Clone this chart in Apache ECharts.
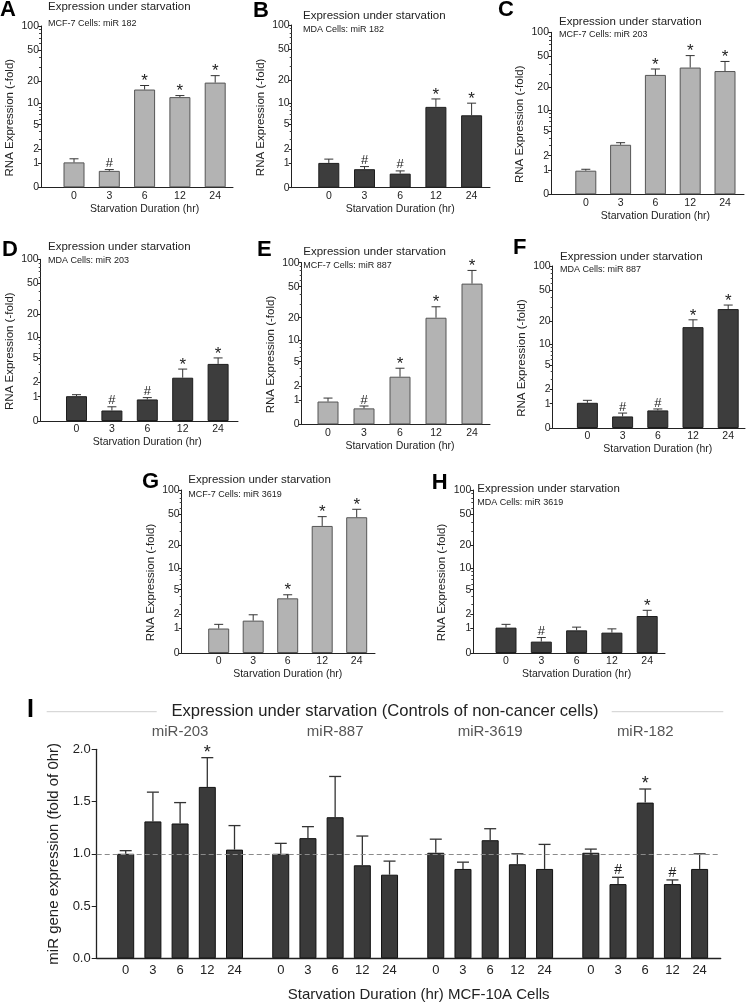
<!DOCTYPE html>
<html>
<head>
<meta charset="utf-8">
<script src="https://cdn.jsdelivr.net/npm/echarts@6/dist/echarts.min.js"></script>
<style>
html, body { margin: 0; padding: 0; background: #fff; }
#container { width: 747px; height: 1004px; }
</style>
</head>
<body>
<div id="container"></div>
<script>
// ---- data ----
var hours = ['0', '3', '6', '12', '24'];
var yTicks = [0, 1, 2, 5, 10, 20, 50, 100];
var yMinorTicks = [3, 4, 6, 7, 8, 9, 30, 40, 60, 70, 80, 90];

// A: MCF-7 miR 182
var mcf7_182 = [1.04, 0.6, 15.4, 12.2, 19];
var mcf7_182_err = [0.22, 0.06, 2.0, 0.6, 4.4];
var mcf7_182_sig = ['', '#', '*', '*', '*'];
// B: MDA miR 182
var mda_182 = [1.02, 0.69, 0.49, 8.9, 6.8];
var mda_182_err = [0.23, 0.13, 0.12, 2.5, 3.2];
var mda_182_sig = ['', '#', '#', '*', '*'];
// C: MCF-7 miR 203
var mcf7_203 = [0.96, 3.1, 29, 36, 32.5];
var mcf7_203_err = [0.08, 0.25, 5.5, 15, 10.5];
var mcf7_203_sig = ['', '', '*', '*', '*'];
// D: MDA miR 203
var mda_203 = [1.03, 0.35, 0.85, 2.44, 4.1];
var mda_203_err = [0.09, 0.15, 0.1, 0.96, 0.95];
var mda_203_sig = ['', '#', '#', '*', '*'];
// E: MCF-7 miR 887
var mcf7_887 = [0.92, 0.58, 2.9, 20, 54.6];
var mcf7_887_err = [0.2, 0.11, 1.07, 7.7, 25.4];
var mcf7_887_sig = ['', '#', '*', '*', '*'];
// F: MDA miR 887
var mda_887 = [1.05, 0.39, 0.65, 16.7, 28.6];
var mda_887_err = [0.15, 0.14, 0.07, 4.1, 3.6];
var mda_887_sig = ['', '#', '#', '*', '*'];
// G: MCF-7 miR 3619
var mcf7_3619 = [1.0, 1.5, 3.7, 35.5, 45.7];
var mcf7_3619_err = [0.25, 0.45, 0.5, 11, 11.8];
var mcf7_3619_sig = ['', '', '*', '*', '*'];
// H: MDA miR 3619
var mda_3619 = [1.05, 0.38, 0.9, 0.78, 1.85];
var mda_3619_err = [0.2, 0.17, 0.18, 0.2, 0.5];
var mda_3619_sig = ['', '#', '', '', '*'];

// I: MCF-10A controls
var groups = ['miR-203', 'miR-887', 'miR-3619', 'miR-182'];
var ctrl_203 = [1.0, 1.31, 1.29, 1.64, 1.04];
var ctrl_203_err = [0.03, 0.28, 0.2, 0.28, 0.23];
var ctrl_203_sig = ['', '', '', '*', ''];
var ctrl_887 = [1.0, 1.15, 1.35, 0.89, 0.80];
var ctrl_887_err = [0.1, 0.11, 0.39, 0.28, 0.13];
var ctrl_887_sig = ['', '', '', '', ''];
var ctrl_3619 = [1.01, 0.855, 1.13, 0.9, 0.855];
var ctrl_3619_err = [0.13, 0.065, 0.11, 0.1, 0.235];
var ctrl_3619_sig = ['', '', '', '', ''];
var ctrl_182 = [1.01, 0.71, 1.49, 0.71, 0.855];
var ctrl_182_err = [0.035, 0.065, 0.13, 0.04, 0.145];
var ctrl_182_sig = ['', '#', '*', '#', ''];

// ---- layout ----
var FONT = '"Liberation Sans", Arial, sans-serif';
var TXT = '#222';

var panels = [
    {letter: 'A', cells: 'MCF-7 Cells: miR 182', mean: mcf7_182, err: mcf7_182_err, sig: mcf7_182_sig, light: true,
     lx: 0, ly: 10, tx: 48, ty: 6.7, sy: 23.3, ax: 41, top: 26, bottom: 187.3, c0: 74, step: 35.3, right: 233},
    {letter: 'B', cells: 'MDA Cells: miR 182', mean: mda_182, err: mda_182_err, sig: mda_182_sig, light: false,
     lx: 253, ly: 10.5, tx: 303, ty: 15.7, sy: 29.3, ax: 291.7, top: 25, bottom: 187.7, c0: 328.8, step: 35.7, right: 490},
    {letter: 'C', cells: 'MCF-7 Cells: miR 203', mean: mcf7_203, err: mcf7_203_err, sig: mcf7_203_sig, light: true,
     lx: 498, ly: 10, tx: 559, ty: 21.7, sy: 35, ax: 551, top: 32.3, bottom: 194.3, c0: 585.8, step: 34.8, right: 744},
    {letter: 'D', cells: 'MDA Cells: miR 203', mean: mda_203, err: mda_203_err, sig: mda_203_sig, light: false,
     lx: 2, ly: 250, tx: 48, ty: 247.3, sy: 261, ax: 40.7, top: 259.3, bottom: 421, c0: 76.5, step: 35.4, right: 238},
    {letter: 'E', cells: 'MCF-7 Cells: miR 887', mean: mcf7_887, err: mcf7_887_err, sig: mcf7_887_sig, light: true,
     lx: 257, ly: 250, tx: 303.3, ty: 251.7, sy: 265.7, ax: 301.7, top: 262.7, bottom: 424.4, c0: 328, step: 36, right: 490},
    {letter: 'F', cells: 'MDA Cells: miR 887', mean: mda_887, err: mda_887_err, sig: mda_887_sig, light: false,
     lx: 513, ly: 248, tx: 560, ty: 256.7, sy: 270, ax: 552.7, top: 266, bottom: 428, c0: 587.4, step: 35.2, right: 745},
    {letter: 'G', cells: 'MCF-7 Cells: miR 3619', mean: mcf7_3619, err: mcf7_3619_err, sig: mcf7_3619_sig, light: true,
     lx: 142, ly: 482, tx: 188.3, ty: 480, sy: 495, ax: 181.7, top: 490, bottom: 653, c0: 218.7, step: 34.5, right: 375},
    {letter: 'H', cells: 'MDA Cells: miR 3619', mean: mda_3619, err: mda_3619_err, sig: mda_3619_sig, light: false,
     lx: 431.7, ly: 482.5, tx: 477.3, ty: 489.3, sy: 502.7, ax: 473.3, top: 490, bottom: 653, c0: 506, step: 35.3, right: 665}
];

var ctrlMeans = [ctrl_203, ctrl_887, ctrl_3619, ctrl_182];
var ctrlErrs = [ctrl_203_err, ctrl_887_err, ctrl_3619_err, ctrl_182_err];
var ctrlSigs = [ctrl_203_sig, ctrl_887_sig, ctrl_3619_sig, ctrl_182_sig];

// the fold axis of A-H is drawn as log10(1 + x)
function logish(v) { return Math.log10(1 + v); }
function unlog(t) { return Math.round(Math.pow(10, t) - 1); }
var yTop = logish(100);

function errorSeries(xi, yi, data, sig, opt) {
    return {
        type: 'custom',
        xAxisIndex: xi,
        yAxisIndex: yi,
        silent: true,
        z: 3,
        data: data,
        renderItem: function (params, api) {
            var lo = api.coord([api.value(0), api.value(1)]);
            var hi = api.coord([api.value(0), api.value(2)]);
            var s = sig[params.dataIndex];
            var st = {stroke: opt.color, lineWidth: opt.width};
            var kids = [
                {type: 'line', shape: {x1: lo[0], y1: lo[1], x2: hi[0], y2: hi[1]}, style: st},
                {type: 'line', shape: {x1: hi[0] - opt.cap, y1: hi[1], x2: hi[0] + opt.cap, y2: hi[1]}, style: st}
            ];
            if (s) {
                var star = s === '*';
                kids.push({
                    type: 'text',
                    x: hi[0],
                    y: hi[1] - (star ? opt.starGap : opt.hashGap),
                    style: {
                        text: s,
                        font: (star ? opt.starSize : opt.hashSize) + 'px ' + FONT,
                        fill: TXT,
                        textAlign: 'center',
                        textVerticalAlign: 'middle'
                    }
                });
            }
            return {type: 'group', children: kids};
        }
    };
}

var grid = [], xAxis = [], yAxis = [], series = [], graphic = [];

panels.forEach(function (p, i) {
    grid.push({left: p.ax, top: p.top, width: p.right - p.ax, height: p.bottom - p.top});
    var shift = (p.c0 + 2 * p.step) - (p.ax + p.right) / 2;
    xAxis.push({
        type: 'value',
        gridIndex: i,
        min: -(p.c0 - p.ax) / p.step,
        max: (p.right - p.c0) / p.step,
        axisLine: {onZero: false, lineStyle: {color: TXT, width: 1}},
        axisTick: {show: false},
        splitLine: {show: false},
        axisLabel: {
            customValues: [0, 1, 2, 3, 4],
            formatter: function (v) { return hours[Math.round(v)]; },
            fontSize: 10.5, color: TXT, margin: 3
        },
        name: 'Starvation Duration (hr)',
        nameLocation: 'middle',
        nameGap: 16,
        nameTextStyle: {fontSize: 10.5, color: TXT, padding: [0, 0, 0, Math.max(0, 2 * shift)]}
    });
    yAxis.push({
        type: 'value',
        gridIndex: i,
        position: 'left',
        min: 0,
        max: yTop,
        axisLine: {show: true, onZero: false, lineStyle: {color: TXT, width: 1}},
        axisTick: {show: true, customValues: yTicks.map(logish), length: 3, lineStyle: {color: TXT}},
        axisLabel: {
            customValues: yTicks.map(logish),
            formatter: function (v) { return String(unlog(v)); },
            fontSize: 10.5, color: TXT, margin: 2
        },
        splitLine: {show: false},
        name: 'RNA Expression (-fold)',
        nameLocation: 'middle',
        nameGap: 25,
        nameTextStyle: {fontSize: 11.5, color: TXT, padding: [0, 22, 0, 0]}
    });
    // minor ticks
    yAxis.push({
        type: 'value',
        gridIndex: i,
        position: 'left',
        min: 0,
        max: yTop,
        axisLine: {show: false, onZero: false},
        axisTick: {show: true, customValues: yMinorTicks.map(logish), length: 2, lineStyle: {color: '#444'}},
        axisLabel: {show: false},
        splitLine: {show: false}
    });
    series.push({
        type: 'bar',
        xAxisIndex: i,
        yAxisIndex: 2 * i,
        barWidth: 21,
        silent: true,
        itemStyle: {
            color: p.light ? '#b3b3b3' : '#3d3d3d',
            borderColor: p.light ? '#555' : '#1e1e1e',
            borderWidth: 1
        },
        data: p.mean.map(function (v, k) { return [k, logish(v)]; })
    });
    series.push(errorSeries(i, 2 * i,
        p.mean.map(function (v, k) { return [k, logish(v), logish(v + p.err[k])]; }),
        p.sig,
        {color: '#333', width: 1, cap: 4.5, starGap: 4, hashGap: 6, starSize: 17, hashSize: 13}));

    graphic.push({type: 'text', x: p.lx, y: p.ly, style: {text: p.letter, font: 'bold 22px ' + FONT, fill: '#000', textVerticalAlign: 'middle'}});
    graphic.push({type: 'text', x: p.tx, y: p.ty, style: {text: 'Expression under starvation', font: '11.5px ' + FONT, fill: TXT, textVerticalAlign: 'middle'}});
    graphic.push({type: 'text', x: p.tx, y: p.sy, style: {text: p.cells, font: '9px ' + FONT, fill: TXT, textVerticalAlign: 'middle'}});
});

// ---- panel I ----
var groupGap = 5.7;
var iPos = [];
groups.forEach(function (g, gi) {
    hours.forEach(function (h, k) { iPos.push(gi * groupGap + k); });
});
var gi0 = panels.length;
var iLeft = 96.7, iRight = 720.7, iFirst = 125.7, iStep = 27.2;
grid.push({left: iLeft, top: 749.3, width: iRight - iLeft, height: 209});
var iMin = -(iFirst - iLeft) / iStep, iMax = (iRight - iFirst) / iStep;
xAxis.push({
    type: 'value',
    gridIndex: gi0,
    min: iMin,
    max: iMax,
    axisLine: {onZero: false, lineStyle: {color: TXT, width: 1.3}},
    axisTick: {show: false},
    splitLine: {show: false},
    axisLabel: {
        customValues: iPos,
        formatter: function (v) {
            var best = 0;
            iPos.forEach(function (p, k) { if (Math.abs(p - v) < Math.abs(iPos[best] - v)) best = k; });
            return hours[best % 5];
        },
        fontSize: 13, color: TXT, margin: 6
    },
    name: 'Starvation Duration (hr) MCF-10A Cells',
    nameLocation: 'middle',
    nameGap: 29,
    nameTextStyle: {fontSize: 15, color: TXT, padding: [0, 0, 0, 20]}
});
xAxis.push({
    type: 'value',
    gridIndex: gi0,
    position: 'top',
    min: iMin,
    max: iMax,
    axisLine: {show: false, onZero: false},
    axisTick: {show: false},
    splitLine: {show: false},
    axisLabel: {
        customValues: groups.map(function (g, k) { return k * groupGap + 2; }),
        formatter: function (v) { return groups[Math.round((v - 2) / groupGap)]; },
        fontSize: 15, color: '#555', margin: 10
    }
});
yAxis.push({
    type: 'value',
    gridIndex: gi0,
    min: 0,
    max: 2,
    interval: 0.5,
    axisLine: {show: true, onZero: false, lineStyle: {color: TXT, width: 1.3}},
    axisTick: {show: true, length: 5, lineStyle: {color: TXT}},
    axisLabel: {formatter: function (v) { return v.toFixed(1); }, fontSize: 13, color: TXT, margin: 6},
    splitLine: {show: false},
    name: 'miR gene expression (fold of 0hr)',
    nameLocation: 'middle',
    nameGap: 34,
    nameTextStyle: {fontSize: 15, color: TXT}
});
var iY = yAxis.length - 1;
var iData = [], iErr = [], iSig = [];
ctrlMeans.forEach(function (arr, g) {
    arr.forEach(function (v, k) {
        var x = iPos[g * 5 + k];
        iData.push([x, v]);
        iErr.push([x, v, v + ctrlErrs[g][k]]);
        iSig.push(ctrlSigs[g][k]);
    });
});
series.push({
    type: 'bar',
    xAxisIndex: xAxis.length - 2,
    yAxisIndex: iY,
    barWidth: 17,
    silent: true,
    itemStyle: {color: '#3a3a3a', borderColor: '#111', borderWidth: 1},
    data: iData,
    markLine: {
        silent: true,
        symbol: 'none',
        label: {show: false},
        lineStyle: {type: [5, 3], color: '#8a8a8a', width: 1},
        data: [{yAxis: 1}]
    }
});
series.push(errorSeries(xAxis.length - 2, iY, iErr, iSig,
    {color: '#333', width: 1.3, cap: 6, starGap: 5, hashGap: 7, starSize: 18, hashSize: 14}));

graphic.push({type: 'text', x: 27, y: 710, style: {text: 'I', font: 'bold 25px ' + FONT, fill: '#000', textVerticalAlign: 'middle'}});
graphic.push({type: 'text', x: 385, y: 711, style: {text: 'Expression under starvation (Controls of non-cancer cells)', font: '16.6px ' + FONT, fill: TXT, textAlign: 'center', textVerticalAlign: 'middle'}});
graphic.push({type: 'line', shape: {x1: 46.7, y1: 711.7, x2: 156.7, y2: 711.7}, style: {stroke: '#cfcfcf', lineWidth: 1}});
graphic.push({type: 'line', shape: {x1: 611.7, y1: 711.7, x2: 723.3, y2: 711.7}, style: {stroke: '#cfcfcf', lineWidth: 1}});

var dom = document.getElementById('container');
var myChart = echarts.init(dom);
var option = {
    animation: false,
    backgroundColor: '#fff',
    textStyle: {fontFamily: FONT},
    grid: grid,
    xAxis: xAxis,
    yAxis: yAxis,
    series: series,
    graphic: graphic
};
myChart.setOption(option);
</script>
</body>
</html>
